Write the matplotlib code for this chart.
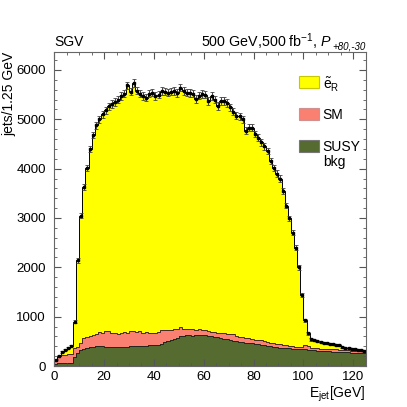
import numpy as np
import matplotlib
matplotlib.use("Agg")
import matplotlib.pyplot as plt
from matplotlib.patches import Rectangle

plt.rcParams['font.family'] = ['Liberation Sans', 'DejaVu Sans']
plt.rcParams['mathtext.fontset'] = 'custom'
plt.rcParams['mathtext.rm'] = 'Liberation Sans'
plt.rcParams['mathtext.it'] = 'Liberation Sans:italic'
plt.rcParams['mathtext.bf'] = 'Liberation Sans:bold'

# binning: 100 bins of 1.25 GeV
bin_width = 1.25
n_bins = 100

# stacked components, events per bin
susy_bkg = [40, 55, 55, 60, 60, 60, 190, 255, 320, 345,
            360, 385, 395, 400, 400, 400, 395, 390, 380, 385,
            380, 385, 390, 395, 400, 405, 405, 410, 405, 410,
            420, 425, 425, 430, 450, 480, 500, 520, 540, 560,
            600, 610, 620, 625, 615, 620, 625, 630, 625, 615,
            600, 590, 580, 570, 555, 545, 525, 515, 505, 495,
            485, 475, 465, 460, 450, 440, 430, 420, 405, 400,
            390, 385, 375, 370, 360, 355, 350, 345, 340, 340,
            345, 330, 320, 315, 310, 305, 300, 300, 295, 290,
            290, 285, 280, 275, 275, 270, 265, 260, 258, 255]

sm_bkg = [70, 145, 165, 170, 180, 185, 170, 125, 140, 225,
          230, 215, 225, 250, 280, 270, 305, 325, 280, 280,
          270, 285, 290, 280, 300, 305, 290, 290, 270, 270,
          240, 245, 240, 260, 270, 245, 230, 215, 200, 190,
          190, 150, 130, 120, 125, 115, 120, 100, 95, 90,
          90, 90, 90, 105, 105, 105, 120, 125, 105, 100,
          95, 100, 95, 80, 85, 90, 90, 85, 85, 75,
          70, 65, 65, 60, 60, 55, 50, 50, 50, 55,
          75, 80, 55, 45, 45, 45, 45, 40, 45, 45,
          45, 45, 45, 45, 40, 40, 40, 40, 37, 35]

selectron = [20, 10, 70, 100, 120, 165, 540, 1760, 2590, 3050,
             3430, 3800, 4060, 4230, 4320, 4430, 4480, 4545, 4650, 4685,
             4750, 4800, 4840, 5015, 4860, 5030, 4885, 4820, 4795, 4760,
             4860, 4870, 4805, 4810, 4850, 4835, 4810, 4825, 4830, 4780,
             4850, 4810, 4790, 4785, 4780, 4675, 4735, 4780, 4780, 4665,
             4780, 4720, 4600, 4695, 4710, 4680, 4595, 4510, 4460, 4465,
             4420, 4195, 4270, 4290, 4165, 4100, 4010, 3945, 3870, 3685,
             3560, 3450, 3360, 3120, 2830, 2580, 2300, 2005, 1610, 1045,
             510, 250, 165, 160, 145, 140, 125, 120, 105, 105,
             100, 100, 55, 50, 45, 40, 40, 30, 25, 20]

x_ticks = [0, 20, 40, 60, 80, 100, 120]
y_ticks = [0, 1000, 2000, 3000, 4000, 5000, 6000]

col_sel = "#ffff00"
col_sm = "#fa8072"
col_susy = "#556b2f"

edges = np.arange(n_bins + 1) * bin_width
centers = edges[:-1] + bin_width / 2
lvl_susy = np.array(susy_bkg, dtype=float)
lvl_bkg = lvl_susy + np.array(sm_bkg)
lvl_tot = lvl_bkg + np.array(selectron)

fig = plt.figure(figsize=(4.07, 4.07), dpi=100)
ax = fig.add_axes([0.1334, 0.1007, 0.7651, 0.7723])

ax.stairs(lvl_susy, edges, baseline=0, fill=True, color=col_susy)
ax.stairs(lvl_bkg, edges, baseline=lvl_susy, fill=True, color=col_sm)
ax.stairs(lvl_tot, edges, baseline=lvl_bkg, fill=True, color=col_sel)
ax.stairs(lvl_susy, edges, baseline=None, color="#1a1a1a", lw=0.6)
ax.stairs(lvl_bkg, edges, baseline=None, color="#2a1a1a", lw=0.6)
ax.stairs(lvl_tot, edges, baseline=None, color="black", lw=0.7)
ax.errorbar(centers, lvl_tot, yerr=np.sqrt(lvl_tot), fmt="s", ms=1.8,
            color="black", ecolor="#444444", elinewidth=0.7, capsize=1.2,
            capthick=0.6)

ax.set_xlim(0, 125)
ax.set_ylim(0, 6370)
ax.set_xticks(x_ticks)
ax.set_yticks(y_ticks)
ax.set_xticks(np.arange(0, 126, 5), minor=True)
ax.set_yticks(np.arange(0, 6370, 200), minor=True)
ax.tick_params(which="both", direction="in", top=True, right=True,
               color="#555555", labelsize=9.5)
ax.tick_params(which="major", length=5)
ax.tick_params(which="minor", length=2.5)
ax.tick_params(axis="y", pad=6)
ax.tick_params(axis="x", pad=3.5)
for s in ax.spines.values():
    s.set_color("#666666")
    s.set_linewidth(0.8)

ax.text(0.0, 1.018, "SGV", transform=ax.transAxes, ha="left",
        va="baseline", fontsize=10)
sub = ax.text(1.0, 1.006, "+80,-30", transform=ax.transAxes, ha="right",
              va="baseline", fontsize=7, style="italic")
ax.annotate(r"500 GeV,500 fb$^{-1}$, $P$", xy=(0, 0), xycoords=sub,
            xytext=(-0.3, 3.4), textcoords="offset points",
            ha="right", va="baseline", fontsize=10.3)
ax.text(1.0, -0.058, r"E$_{\mathrm{jet}}$[GeV]", transform=ax.transAxes,
        ha="right", va="top", fontsize=10)
ax.text(-0.145, 1.0, "jets/1.25 GeV", transform=ax.transAxes, rotation=90,
        ha="center", va="top", fontsize=10)

# legend
legend_rows = [(col_sel, "#c8c800", 0.8845, r"$\tilde{\mathrm{e}}_{\mathrm{R}}$"),
               (col_sm, "#d09090", 0.7827, "SM"),
               (col_susy, "#777777", 0.6809, "SUSY\nbkg")]
for fc, ec, y0, lab in legend_rows:
    ax.add_patch(Rectangle((0.786, y0), 0.064, 0.039, transform=ax.transAxes,
                           facecolor=fc, edgecolor=ec, lw=0.8, zorder=5))
    ax.text(0.862, y0 + 0.039, lab, transform=ax.transAxes, ha="left",
            va="top", fontsize=10, linespacing=1.15, zorder=5)

fig.savefig("out.png", dpi=100)
